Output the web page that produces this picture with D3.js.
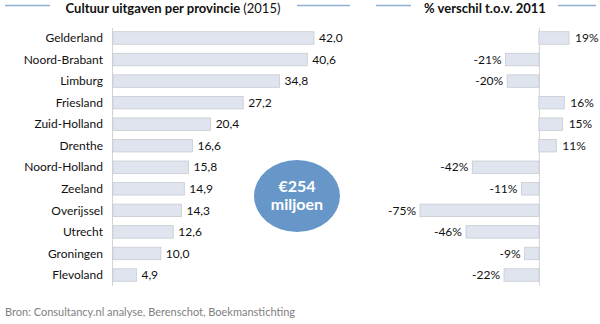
<!DOCTYPE html>
<html>
<head>
<meta charset="utf-8">
<script src="https://cdn.jsdelivr.net/npm/d3@7"></script>
<style>
  body { margin: 0; background: #fff; }
  svg text { font-family: Lato, "Open Sans", sans-serif; }
</style>
</head>
<body>
<div id="chart"></div>
<script>
var svgWidth = 600;
var svgHeight = 324;

// data
var provinces = ["Gelderland", "Noord-Brabant", "Limburg", "Friesland", "Zuid-Holland", "Drenthe",
  "Noord-Holland", "Zeeland", "Overijssel", "Utrecht", "Groningen", "Flevoland"];
var spending = [42.0, 40.6, 34.8, 27.2, 20.4, 16.6, 15.8, 14.9, 14.3, 12.6, 10.0, 4.9];
var change = [19, -21, -20, 16, 15, 11, -42, -11, -75, -46, -9, -22];

var svg = d3.select("#chart")
  .append("svg")
  .attr("width", svgWidth)
  .attr("height", svgHeight);

var barFill = "#dfe4ee";
var barStroke = "#c6cbd3";

// shared row scale
var yScale = d3.scaleBand()
  .domain(provinces)
  .range([27.2, 285.8])
  .paddingInner(0.42)
  .paddingOuter(0.21);

var fmt = d3.format(".1f");

// ---- left chart: spending
var xLeft = d3.scaleLinear().domain([0, 42]).range([113, 314]);

svg.append("line")
  .attr("x1", xLeft(0) - 0.5).attr("x2", xLeft(0) - 0.5)
  .attr("y1", 28).attr("y2", 286)
  .attr("stroke", "#d3d3d3");

svg.selectAll(".barL")
  .data(spending)
  .enter()
  .append("rect")
  .attr("class", "barL")
  .attr("x", xLeft(0))
  .attr("y", (d, i) => yScale(provinces[i]))
  .attr("width", d => xLeft(d) - xLeft(0))
  .attr("height", yScale.bandwidth())
  .attr("fill", barFill)
  .attr("stroke", barStroke)
  .attr("stroke-width", 0.8);

svg.selectAll(".nameL")
  .data(provinces)
  .enter()
  .append("text")
  .attr("x", 103)
  .attr("y", d => yScale(d) + yScale.bandwidth() / 2)
  .attr("dy", "0.35em")
  .attr("text-anchor", "end")
  .attr("font-size", 12)
  .attr("fill", "#111")
  .text(d => d);

svg.selectAll(".valL")
  .data(spending)
  .enter()
  .append("text")
  .attr("x", d => xLeft(d) + 5)
  .attr("y", (d, i) => yScale(provinces[i]) + yScale.bandwidth() / 2)
  .attr("dy", "0.35em")
  .attr("font-size", 12)
  .attr("fill", "#111")
  .text(d => fmt(d).replace(".", ","));

// ---- right chart: % change
var xRight = d3.scaleLinear().domain([-75, 19]).range([420, 569]);

svg.append("line")
  .attr("x1", xRight(0) + 0.5).attr("x2", xRight(0) + 0.5)
  .attr("y1", 28).attr("y2", 286)
  .attr("stroke", "#d3d3d3");

svg.selectAll(".barR")
  .data(change)
  .enter()
  .append("rect")
  .attr("class", "barR")
  .attr("x", d => xRight(Math.min(0, d)))
  .attr("y", (d, i) => yScale(provinces[i]))
  .attr("width", d => Math.abs(xRight(d) - xRight(0)))
  .attr("height", yScale.bandwidth())
  .attr("fill", barFill)
  .attr("stroke", barStroke)
  .attr("stroke-width", 0.8);

svg.selectAll(".valR")
  .data(change)
  .enter()
  .append("text")
  .attr("x", d => d < 0 ? xRight(d) - 4 : xRight(d) + 6)
  .attr("y", (d, i) => yScale(provinces[i]) + yScale.bandwidth() / 2)
  .attr("dy", "0.35em")
  .attr("text-anchor", d => d < 0 ? "end" : "start")
  .attr("font-size", 12)
  .attr("fill", "#111")
  .text(d => d + "%");

// ---- titles with decorative lines
var titleLine = "#8fb0d6";
[[5, 50], [297, 350], [376, 411], [558, 596]].forEach(function(seg) {
  svg.append("line")
    .attr("x1", seg[0]).attr("x2", seg[1])
    .attr("y1", 5.5).attr("y2", 5.5)
    .attr("stroke", titleLine)
    .attr("stroke-width", 1.5);
});

var t1 = svg.append("text")
  .attr("x", 173)
  .attr("y", 12.5)
  .attr("text-anchor", "middle")
  .attr("font-size", 13)
  .attr("fill", "#111");
t1.append("tspan").attr("font-weight", "bold").text("Cultuur uitgaven per provincie ");
t1.append("tspan").text("(2015)");

svg.append("text")
  .attr("x", 485)
  .attr("y", 12.5)
  .attr("text-anchor", "middle")
  .attr("font-size", 13)
  .attr("font-weight", "bold")
  .attr("fill", "#111")
  .text("% verschil t.o.v. 2011");

// ---- total bubble
svg.append("ellipse")
  .attr("cx", 297)
  .attr("cy", 196)
  .attr("rx", 43)
  .attr("ry", 36)
  .attr("fill", "#6797c9");

svg.append("text")
  .attr("x", 297).attr("y", 192)
  .attr("text-anchor", "middle")
  .attr("font-size", 16)
  .attr("font-weight", "bold")
  .attr("fill", "#fff")
  .text("€254");

svg.append("text")
  .attr("x", 297).attr("y", 210)
  .attr("text-anchor", "middle")
  .attr("font-size", 16)
  .attr("font-weight", "bold")
  .attr("fill", "#fff")
  .text("miljoen");

// ---- source
svg.append("text")
  .attr("x", 5)
  .attr("y", 316)
  .attr("font-size", 11)
  .attr("fill", "#7f7f7f")
  .text("Bron: Consultancy.nl analyse, Berenschot, Boekmanstichting");
</script>
</body>
</html>
